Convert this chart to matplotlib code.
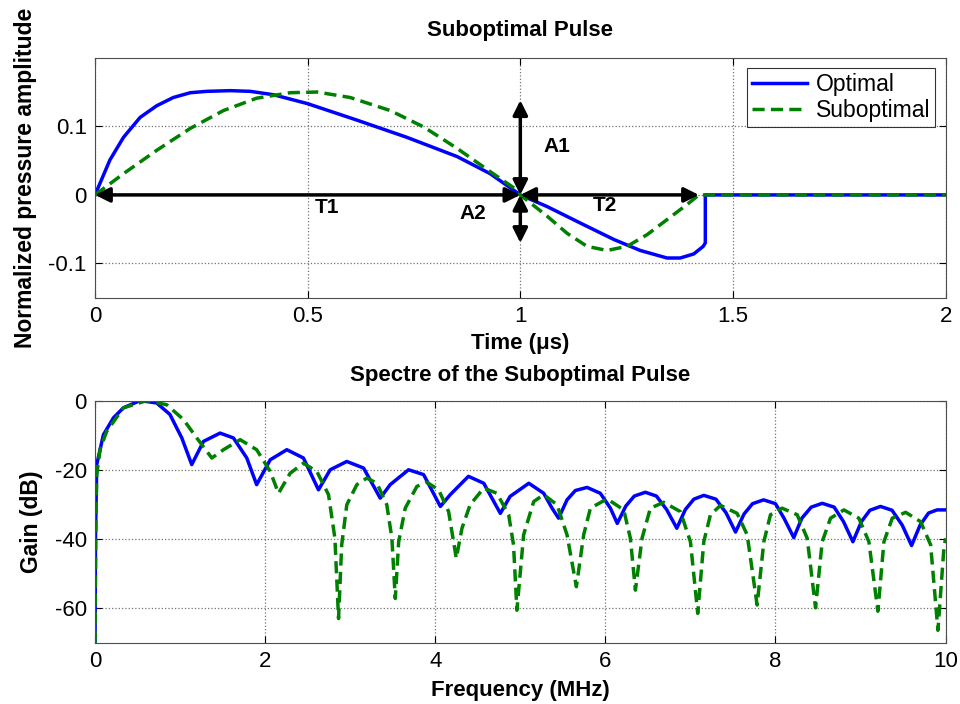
import matplotlib
matplotlib.use('Agg')
from matplotlib import pyplot as plt

plt.rcParams['font.family'] = ['Liberation Sans', 'DejaVu Sans']
plt.rcParams['axes.labelweight'] = 'bold'
plt.rcParams['axes.titleweight'] = 'bold'
plt.rcParams['axes.unicode_minus'] = False

# --- pulse (time domain) ---
t_opt = [0, 0.035, 0.067, 0.106, 0.145, 0.184, 0.224, 0.263, 0.318, 0.365, 0.42,
         0.5, 0.616, 0.733, 0.851, 0.929, 1.0, 1.063, 1.141, 1.22, 1.282, 1.345,
         1.376, 1.408, 1.43, 1.435, 1.435, 2.0]
p_opt = [0, 0.051, 0.084, 0.113, 0.130, 0.142, 0.149, 0.151, 0.152, 0.151, 0.146,
         0.133, 0.109, 0.084, 0.056, 0.031, 0, -0.017, -0.041, -0.065, -0.081, -0.092,
         -0.092, -0.086, -0.075, -0.07, 0, 0]

t_sub = [0, 0.067, 0.145, 0.224, 0.302, 0.38, 0.459, 0.522, 0.6, 0.694, 0.773,
         0.851, 0.929, 0.99, 1.0, 1.063, 1.11, 1.157, 1.204, 1.251, 1.298, 1.345,
         1.392, 1.42, 2.0]
p_sub = [0, 0.031, 0.065, 0.097, 0.123, 0.141, 0.149, 0.150, 0.142, 0.123, 0.099,
         0.068, 0.034, 0.008, 0, -0.031, -0.056, -0.075, -0.081, -0.075, -0.058, -0.036,
         -0.014, 0, 0]

# --- spectrum (dB), values ---
f_opt = [0, 0.005, 0.02, 0.098, 0.216, 0.333, 0.53, 0.725, 0.88, 1.02, 1.137,
         1.275, 1.47, 1.627, 1.784, 1.9, 2.06, 2.255, 2.45, 2.627, 2.765, 2.96,
         3.157, 3.353, 3.47, 3.686, 3.863, 4.06, 4.176, 4.39, 4.57, 4.765, 4.88,
         5.1, 5.275, 5.373, 5.45, 5.549, 5.647, 5.785, 5.941, 6.059, 6.14,
         6.24, 6.34, 6.47, 6.6, 6.72, 6.84, 6.94, 7.04, 7.157, 7.3, 7.42, 7.53,
         7.63, 7.73, 7.86, 8.0, 8.1, 8.215, 8.31, 8.42, 8.55, 8.69, 8.8, 8.91,
         9.01, 9.11, 9.235, 9.37, 9.49, 9.6, 9.7, 9.8, 9.9, 10.0]
g_opt = [-70, -40, -18.5, -9.9, -5.0, -2.1, 0, -0.7, -4.0, -10.8, -18.5,
         -11.8, -9.4, -10.8, -16.6, -24.3, -17.1, -14.2, -16.6, -25.8, -20.0, -17.6,
         -19.5, -28.2, -24.3, -20.0, -21.4, -30.6, -27.2, -21.9, -23.9, -32.6, -27.7,
         -23.9, -26.8, -31.1, -34.0, -28.7, -26.0, -25.1, -26.8, -31.1, -35.5,
         -30.5, -27.6, -26.5, -27.6, -31.5, -36.9, -31.5, -28.5, -27.4, -28.5, -32.5, -38.0,
         -32.8, -29.8, -28.7, -29.8, -34.0, -39.6, -34.0, -30.8, -29.7, -30.8, -35.0, -40.8,
         -35.0, -31.7, -30.6, -31.7, -36.0, -41.9, -36.0, -32.5, -31.6, -31.6]

f_sub = [0, 0.01, 0.02, 0.06, 0.137, 0.333, 0.608, 0.843, 1.04, 1.196, 1.373,
         1.51, 1.706, 1.9, 2.06, 2.157, 2.294, 2.45, 2.608, 2.745, 2.82, 2.863,
         2.9, 2.96, 3.078, 3.196, 3.314, 3.43, 3.49, 3.53, 3.57, 3.647, 3.784,
         3.9, 4.04, 4.157, 4.247, 4.314, 4.41, 4.57, 4.725, 4.863, 4.92, 4.96,
         5.039, 5.157, 5.275, 5.431, 5.549, 5.659, 5.745, 5.824, 6.02, 6.216,
         6.294, 6.353, 6.431, 6.529, 6.686, 6.882, 7.0, 7.086, 7.157, 7.235,
         7.353, 7.549, 7.667, 7.784, 7.863, 7.941, 8.078, 8.255, 8.373, 8.471,
         8.549, 8.647, 8.804, 8.98, 9.098, 9.204, 9.275, 9.373, 9.53, 9.706,
         9.824, 9.91, 9.98, 10.0]
g_sub = [-70, -35, -21.4, -14.0, -8.9, -2.1, 0, -1.2, -5.5, -10.8, -16.6,
         -14.2, -11.3, -14.2, -20.5, -26.8, -21.0, -18.1, -20.5, -27.2, -39.8, -63.0,
         -41.7, -30.1, -24.3, -22.4, -23.9, -30.1, -39.8, -57.2, -40.8, -31.1, -24.8,
         -23.6, -25.8, -32.1, -45.6, -36.9, -30.1, -25.3, -26.8, -33.0, -41.7, -60.6,
         -38.8, -29.2, -27.2, -30.1, -38.8, -53.8, -38.8, -31.1, -28.4, -31.6,
         -39.8, -54.8, -39.8, -31.1, -29.4, -32.1, -40.8, -61.5, -40.8, -33.0,
         -30.3, -32.6, -38.8, -59.1, -40.8, -33.0, -31.1, -33.0, -39.8, -59.9,
         -40.8, -34.0, -31.6, -34.0, -40.8, -60.9, -40.8, -34.0, -32.3, -35.0,
         -41.7, -66.4, -42.7, -39.8]

blue = (0, 0, 1)
green = (0, 0.5, 0)


def matlab_axes(ax):
    ax.grid(True, linestyle=':', color='0.45', linewidth=0.9)
    ax.tick_params(direction='in', top=True, right=True, labelsize=16, length=5, pad=6)
    for s in ax.spines.values():
        s.set_color('0.3')


fig = plt.figure(figsize=(9.6, 7.04), dpi=100)
ax1 = fig.add_axes([0.099, 0.577, 0.886, 0.341])
ax2 = fig.add_axes([0.099, 0.087, 0.886, 0.344])

# top: pulses
ax1.plot(t_opt, p_opt, color=blue, lw=2.5, label='Optimal')
ax1.plot(t_sub, p_sub, color=green, lw=2.5, ls='--', dashes=(3.5, 1.8), label='Suboptimal')
ax1.set_xlim(0, 2)
ax1.set_ylim(-0.15, 0.2)
ax1.set_xticks([0, 0.5, 1, 1.5, 2])
ax1.set_xticklabels(['0', '0.5', '1', '1.5', '2'])
ax1.set_yticks([-0.1, 0, 0.1])
ax1.set_yticklabels(['-0.1', '0', '0.1'])
ax1.set_title('Suboptimal Pulse', fontsize=16, pad=16)
ax1.set_xlabel('Time (μs)', fontsize=16, labelpad=4)
ax1.set_ylabel('Normalized pressure amplitude', fontsize=16.5, labelpad=8)
matlab_axes(ax1)

arrow = dict(arrowstyle='<|-|>', color='black', lw=2.5, mutation_scale=22,
             shrinkA=0, shrinkB=0)
ax1.annotate('', xy=(0, 0), xytext=(1, 0), arrowprops=arrow)
ax1.annotate('', xy=(1.42, 0), xytext=(1, 0), arrowprops=arrow)
ax1.annotate('', xy=(1, 0.138), xytext=(1, 0), arrowprops=arrow)
ax1.annotate('', xy=(1, -0.07), xytext=(1, 0), arrowprops=arrow)
lab_kw = dict(fontsize=15, fontweight='bold', ha='center', va='center')
ax1.text(0.545, -0.018, 'T1', **lab_kw)
ax1.text(0.888, -0.027, 'A2', **lab_kw)
ax1.text(1.086, 0.071, 'A1', **lab_kw)
ax1.text(1.2, -0.015, 'T2', **lab_kw)

leg = ax1.legend(loc='upper right', fontsize=16.5, frameon=True, fancybox=False,
                 edgecolor='black', handlelength=2.4, borderaxespad=0.45,
                 borderpad=0.2, labelspacing=0.15, handletextpad=0.4)
leg.get_frame().set_linewidth(0.8)

# bottom: spectrum
ax2.plot(f_opt, g_opt, color=blue, lw=2.5)
ax2.plot(f_sub, g_sub, color=green, lw=2.5, ls='--', dashes=(3.5, 1.8))
ax2.set_xlim(0, 10)
ax2.set_ylim(-70, 0)
ax2.set_xticks([0, 2, 4, 6, 8, 10])
ax2.set_yticks([-60, -40, -20, 0])
ax2.set_title('Spectre of the Suboptimal Pulse', fontsize=16, pad=14)
ax2.set_xlabel('Frequency (MHz)', fontsize=16, labelpad=6)
ax2.set_ylabel('Gain (dB)', fontsize=16.5, labelpad=8)
matlab_axes(ax2)

plt.savefig('out.png', dpi=100)
